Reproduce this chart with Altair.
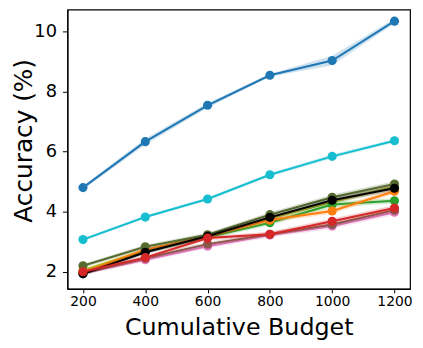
import altair as alt
import pandas as pd

budgets = [200, 400, 600, 800, 1000, 1200]

series_names = ["blue", "cyan", "pink", "brown", "yellowgreen", "green", "orange", "darkolive", "black", "red"]
series_colors = ["#1f77b4", "#17becf", "#e377c2", "#8c564b", "#bcbd22", "#2ca02c", "#ff7f0e", "#556b2f", "#000000", "#d62728"]

acc_blue = [4.80, 6.33, 7.54, 8.54, 9.03, 10.34]
acc_cyan = [3.07, 3.82, 4.42, 5.23, 5.84, 6.36]
acc_pink = [1.95, 2.40, 2.85, 3.22, 3.52, 3.98]
acc_brown = [1.95, 2.45, 2.92, 3.25, 3.57, 4.05]
acc_yellowgreen = [2.05, 2.72, 3.16, 3.78, 4.32, 4.84]
acc_green = [1.97, 2.68, 3.15, 3.63, 4.24, 4.36]
acc_orange = [1.98, 2.73, 3.18, 3.72, 4.02, 4.68]
acc_darkolive = [2.20, 2.83, 3.23, 3.90, 4.48, 4.92]
acc_black = [1.93, 2.65, 3.18, 3.81, 4.38, 4.78]
acc_red = [2.00, 2.47, 3.12, 3.25, 3.68, 4.12]

err_blue = [0.06, 0.10, 0.08, 0.05, 0.16, 0.08]
err_cyan = [0.05, 0.05, 0.05, 0.06, 0.07, 0.06]
err_small = [0.06, 0.07, 0.07, 0.08, 0.09, 0.09]

values = [acc_blue, acc_cyan, acc_pink, acc_brown, acc_yellowgreen, acc_green,
          acc_orange, acc_darkolive, acc_black, acc_red]
errors = [err_blue, err_cyan] + [err_small] * 8

x_scale = alt.Scale(domain=[150, 1250], nice=False, zero=False)
y_scale = alt.Scale(domain=[1.43, 10.725], nice=False, zero=False)

x_axis = alt.Axis(values=budgets, format="d", title="Cumulative Budget", grid=False, tickSize=4,
                  labelFontSize=14, titleFontSize=24, labelPadding=2,
                  titleFontWeight="normal", titleBaseline="alphabetic", titleY=46)
y_axis = alt.Axis(values=[2, 4, 6, 8, 10], title="Accuracy (%)", grid=False, tickSize=5,
                  labelFontSize=18, titleFontSize=25, labelPadding=6,
                  titleFontWeight="normal", titleBaseline="alphabetic", titleAngle=270,
                  titleX=-36, titleY=132, titleAlign="center")

layers = []
for i, (name, color, vals, errs) in enumerate(zip(series_names, series_colors, values, errors)):
    df = pd.DataFrame({
        "budget": budgets,
        "acc": vals,
        "lo": [v - e for v, e in zip(vals, errs)],
        "hi": [v + e for v, e in zip(vals, errs)],
    })
    base = alt.Chart(df)
    band = base.mark_area(color=color, opacity=0.22).encode(
        x=alt.X("budget:Q", scale=x_scale, axis=x_axis),
        y=alt.Y("lo:Q", scale=y_scale, axis=y_axis),
        y2="hi:Q",
    )
    line = base.mark_line(color=color, strokeWidth=2).encode(
        x=alt.X("budget:Q", scale=x_scale, axis=x_axis),
        y=alt.Y("acc:Q", scale=y_scale, axis=y_axis),
    )
    pts = base.mark_point(color=color, filled=True, opacity=1, size=85).encode(
        x=alt.X("budget:Q", scale=x_scale, axis=x_axis),
        y=alt.Y("acc:Q", scale=y_scale, axis=y_axis),
    )
    layers += [band, line, pts]

chart = alt.layer(*layers).properties(
    width=346, height=282,
    autosize=alt.AutoSizeParams(type="none"),
    padding={"left": 60, "top": 0, "right": 5, "bottom": 50},
).configure_view(stroke="black", strokeWidth=1.2).configure_axis(
    domainColor="black", tickColor="black", labelColor="black", titleColor="black",
    labelFont="DejaVu Sans", titleFont="DejaVu Sans", domainWidth=1.2,
)

chart.save("out.html", embed_options={"renderer": "svg", "actions": False})
